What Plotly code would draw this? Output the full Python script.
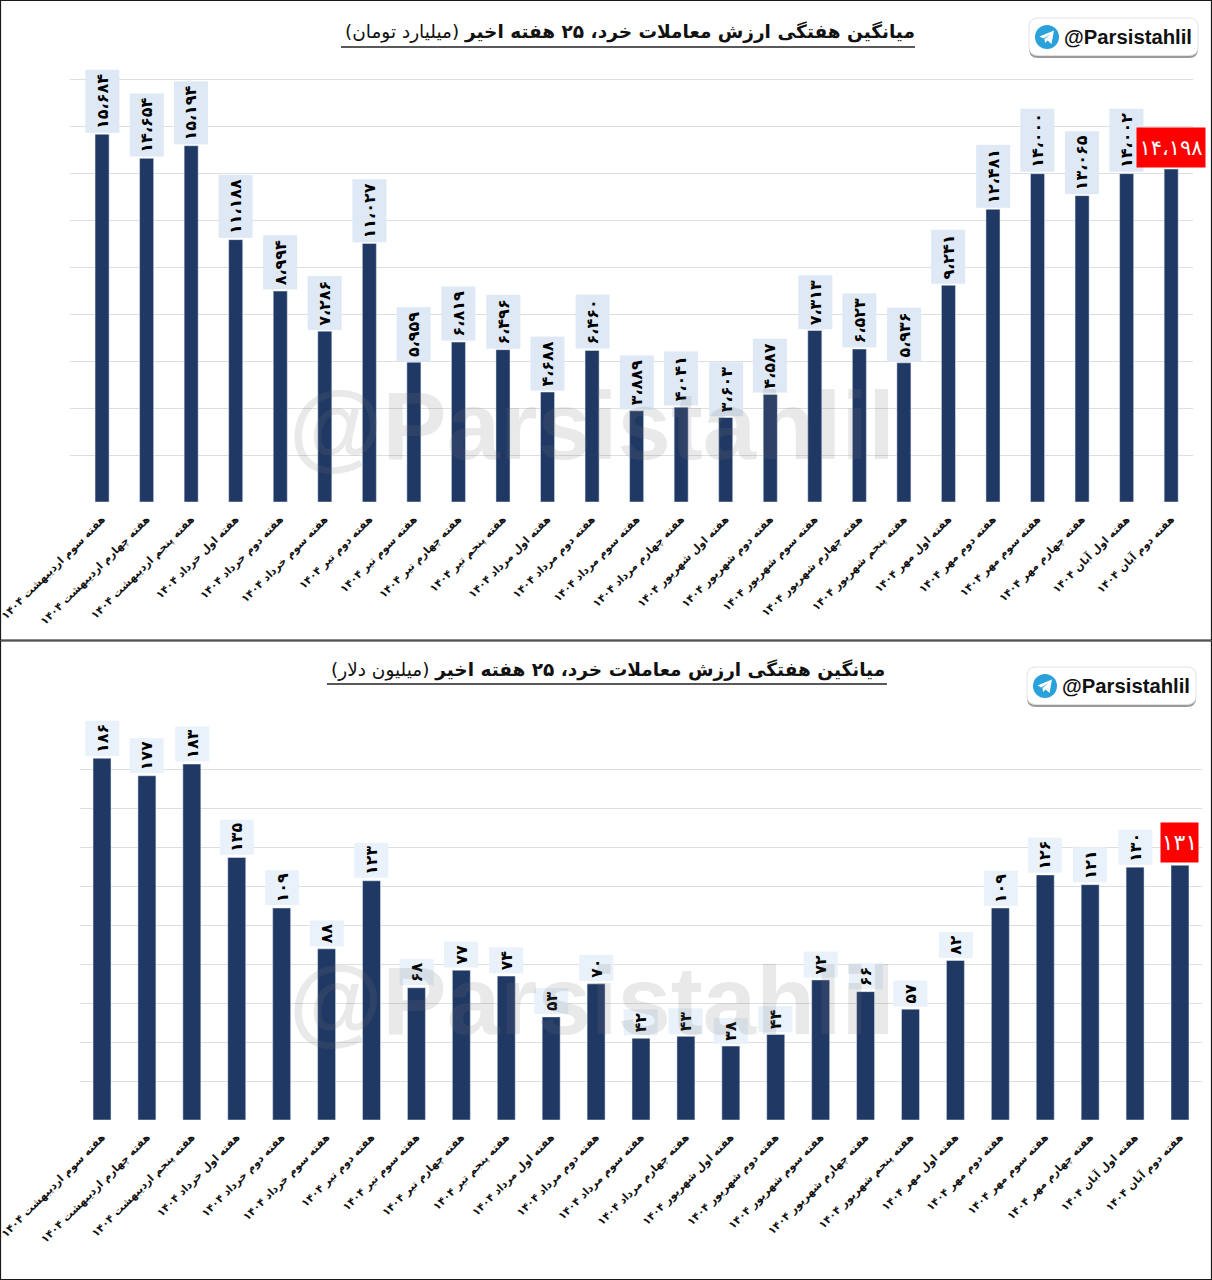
import plotly.graph_objects as go

W, H = 1212, 1280

weeks = ["هفته سوم اردیبهشت ۱۴۰۴", "هفته چهارم اردیبهشت ۱۴۰۴", "هفته پنجم اردیبهشت ۱۴۰۴",
         "هفته اول خرداد ۱۴۰۴", "هفته دوم خرداد ۱۴۰۴", "هفته سوم خرداد ۱۴۰۴",
         "هفته دوم تیر ۱۴۰۴", "هفته سوم تیر ۱۴۰۴", "هفته چهارم تیر ۱۴۰۴", "هفته پنجم تیر ۱۴۰۴",
         "هفته اول مرداد ۱۴۰۴", "هفته دوم مرداد ۱۴۰۴", "هفته سوم مرداد ۱۴۰۴", "هفته چهارم مرداد ۱۴۰۴",
         "هفته اول شهریور ۱۴۰۴", "هفته دوم شهریور ۱۴۰۴", "هفته سوم شهریور ۱۴۰۴",
         "هفته چهارم شهریور ۱۴۰۴", "هفته پنجم شهریور ۱۴۰۴",
         "هفته اول مهر ۱۴۰۴", "هفته دوم مهر ۱۴۰۴", "هفته سوم مهر ۱۴۰۴", "هفته چهارم مهر ۱۴۰۴",
         "هفته اول آبان ۱۴۰۴", "هفته دوم آبان ۱۴۰۴"]
toman = [15684, 14654, 15194, 11188, 8994, 7286, 11027, 5959, 6819, 6496, 4688, 6460, 3889, 4041,
         3603, 4587, 7313, 6523, 5936, 9241, 12481, 14000, 13065, 14002, 14198]
dollar = [186, 177, 183, 135, 109, 88, 123, 68, 77, 74, 53, 70, 42, 43, 38, 44, 72, 66, 57, 82,
          109, 126, 121, 130, 131]
title_top = "<b>میانگین هفتگی ارزش معاملات خرد، ۲۵ هفته اخیر</b> (میلیارد تومان)\u200f"
title_bottom = "<b>میانگین هفتگی ارزش معاملات خرد، ۲۵ هفته اخیر</b> (میلیون دلار)\u200f"
handle = "@Parsistahlil"
toman_ticks = [0, 2000, 4000, 6000, 8000, 10000, 12000, 14000, 16000, 18000]
dollar_ticks = [0, 20, 40, 60, 80, 100, 120, 140, 160, 180]

NAVY, GRID, RED = "#1F3864", "#DEDEDE", "#FF0000"
FA = "DejaVu Sans"
DIG = str.maketrans("0123456789", "۰۱۲۳۴۵۶۷۸۹")


def fa(v):
    return f"{v:,}".replace(",", "،").translate(DIG)


def px(x):
    return x / W


def py(y):
    return 1 - y / H


fig = go.Figure()
panels = [
    dict(vals=toman, ticks=toman_ticks, ax="", top=33, base=502, ymax=20000, x0=70, x1=1193,
         xr=[-0.72, 24.49], bw=0.315, title=title_top, tx=630, ty=32, ul=(341, 915, 47),
         badge=(1029, 18, 1198, 56), wm=425, red=(68, 39), rsize=21, lab="#DEE9F5", lpad=1, rshift=1),
    dict(vals=dollar, ticks=dollar_ticks, ax="2", top=731, base=1120, ymax=200, x0=80, x1=1202,
         xr=[-0.49, 24.49], bw=0.40, title=title_bottom, tx=608, ty=670, ul=(327, 887, 684),
         badge=(1027, 667, 1196, 705), wm=1000, red=(37, 39), rsize=22, lab="#E9F1FA", lpad=2, rshift=2),
]
anns, shapes = [], []


def rr(a, b, c, d, r=9):
    return (f"M{px(a + r)},{py(b)} L{px(c - r)},{py(b)} Q{px(c)},{py(b)} {px(c)},{py(b + r)} "
            f"L{px(c)},{py(d - r)} Q{px(c)},{py(d)} {px(c - r)},{py(d)} L{px(a + r)},{py(d)} "
            f"Q{px(a)},{py(d)} {px(a)},{py(d - r)} L{px(a)},{py(b + r)} Q{px(a)},{py(b)} {px(a + r)},{py(b)} Z")


for p in panels:
    fig.add_bar(x=weeks, y=p["vals"], marker_color=NAVY, width=p["bw"], showlegend=False,
                xaxis="x" + p["ax"], yaxis="y" + p["ax"])
    fig.update_layout({
        "xaxis" + p["ax"]: dict(domain=[px(p["x0"]), px(p["x1"])], range=p["xr"], type="category",
                                categoryorder="array", categoryarray=weeks,
                                tickangle=-45, tickfont=dict(family=FA, size=10.7, color="#111"),
                                showline=False, ticks="", showgrid=False, zeroline=False,
                                anchor="y" + p["ax"], automargin=False, tickmode="array",
                                tickvals=weeks, ticktext=["<b>" + w + "</b>" for w in weeks],
                                ticklabelstandoff=8),
        "yaxis" + p["ax"]: dict(domain=[py(p["base"]), py(p["top"])], range=[0, p["ymax"]],
                                tickmode="array", tickvals=p["ticks"], showticklabels=False,
                                gridcolor=GRID, gridwidth=1, zeroline=False, showline=False,
                                anchor="x" + p["ax"], automargin=False),
    })
    xr, yr = "x" + p["ax"], "y" + p["ax"]
    for i, (w, v) in enumerate(zip(weeks, p["vals"])):
        last = i == len(weeks) - 1
        t = fa(v)
        if last:
            anns.append(dict(x=w, y=v, xref=xr, yref=yr, text=t, showarrow=False, yanchor="bottom",
                             xanchor="center", yshift=p["rshift"], bgcolor=RED, align="center",
                             valign="middle", width=p["red"][0] - 4, height=p["red"][1] - 4, borderpad=2,
                             font=dict(family=FA, size=p["rsize"], color="#FFF")))
        else:
            anns.append(dict(x=w, y=v, xref=xr, yref=yr, text="<b>" + t + "</b>", showarrow=False,
                             yanchor="bottom", xanchor="center", yshift=p["lpad"], textangle=-90,
                             bgcolor=p["lab"], align="center", valign="middle",
                             width=len(t) * 9.3, height=27, borderpad=3,
                             font=dict(family=FA, size=16, color="#000")))
    anns.append(dict(x=px(592), y=py(p["wm"]), xref="paper", yref="paper", text="<b>" + handle + "</b>",
                     showarrow=False, xanchor="center", yanchor="middle",
                     font=dict(family="Liberation Sans", size=96, color="rgba(120,120,120,0.16)")))
    anns.append(dict(x=px(p["tx"]), y=py(p["ty"]), xref="paper", yref="paper", text=p["title"],
                     showarrow=False, xanchor="center", yanchor="middle",
                     font=dict(family=FA, size=18.5, color="#111")))
    ux0, ux1, uy = p["ul"]
    shapes.append(dict(type="line", xref="paper", yref="paper", x0=px(ux0), x1=px(ux1),
                       y0=py(uy), y1=py(uy), line=dict(color="#222", width=1.5)))
    bx0, by0, bx1, by1 = p["badge"]
    shapes.append(dict(type="path", xref="paper", yref="paper", path=rr(bx0, by0 + 2, bx1, by1 + 2),
                       fillcolor="#9A9A9A", line=dict(width=0)))
    shapes.append(dict(type="path", xref="paper", yref="paper", path=rr(bx0, by0, bx1, by1 - 0.5),
                       fillcolor="#FFFFFF", line=dict(color="#E2E2E2", width=1)))
    cx, cy = bx0 + 18, by0 + 19
    shapes.append(dict(type="circle", xref="paper", yref="paper", x0=px(cx - 12), x1=px(cx + 12),
                       y0=py(cy + 12), y1=py(cy - 12), fillcolor="#2AA1DA", line=dict(width=0)))
    plane = [(-7.5, -0.5), (7, -6.5), (4.5, 7), (0.5, 3.5), (-2, 6), (-2.5, 2), (3.5, -3), (-3.5, 1.5)]
    shapes.append(dict(type="path", xref="paper", yref="paper",
                       path="M" + " L".join(f"{px(cx + a)},{py(cy + b)}" for a, b in plane) + " Z",
                       fillcolor="#FFFFFF", line=dict(width=0)))
    anns.append(dict(x=px(bx0 + 33), y=py((by0 + by1) / 2), xref="paper", yref="paper",
                     text="<b>" + handle + "</b>", xanchor="left", yanchor="middle", showarrow=False,
                     font=dict(family="Liberation Sans", size=20.3, color="#111")))

for y0, y1 in [(0.5, 640), (641, 1279.5)]:
    shapes.append(dict(type="rect", xref="paper", yref="paper", x0=px(0.5), x1=px(1211.5),
                       y0=py(y1), y1=py(y0), line=dict(color="#1a1a1a", width=1.2),
                       fillcolor="rgba(0,0,0,0)"))

fig.update_layout(width=W, height=H, margin=dict(l=0, r=0, t=0, b=0), autosize=False,
                  paper_bgcolor="#FFF", plot_bgcolor="#FFF", bargap=0.6,
                  annotations=anns, shapes=shapes, showlegend=False)
fig.write_html("out.html", post_script="document.body.style.margin='0';",
               config={"displayModeBar": False})
